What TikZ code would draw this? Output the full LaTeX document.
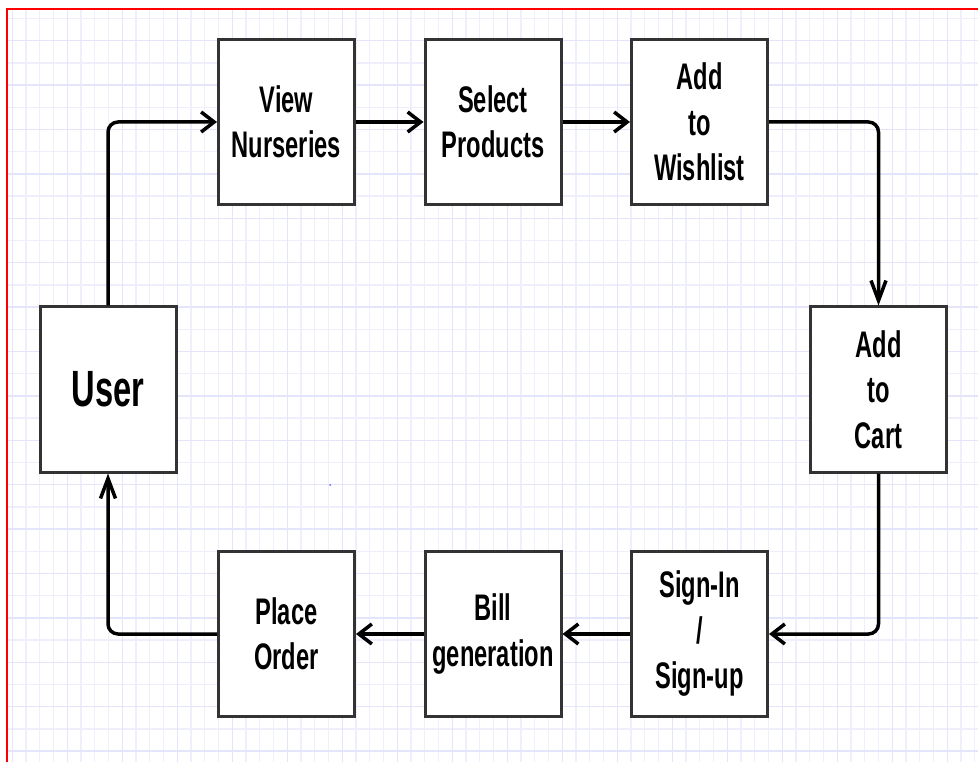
\documentclass[tikz,border=0pt]{standalone}
\usepackage{fontspec}
\newfontfamily\bx{Liberation Sans}[FakeStretch=0.64]
\usetikzlibrary{arrows.meta}
\definecolor{gridminor}{HTML}{EEEEFC}
\definecolor{gridmajor}{HTML}{E4E4FA}
\definecolor{boxline}{HTML}{333333}
\begin{document}
\begin{tikzpicture}[x=1pt,y=-1pt,
  stepbox/.style={draw=boxline, line width=3pt, fill=white, minimum width=136pt, minimum height=165pt, inner sep=0pt, align=center, font=\bx\bfseries\fontsize{37}{45.5}\selectfont},
  conn/.style={line width=3.5pt, rounded corners=10pt},
  harrow/.style={-{Straight Barb[length=13pt,width=20pt]}},
  varrow/.style={-{Straight Barb[length=20pt,width=15pt]}},
  gminor/.style={draw=gridminor, line width=1.3pt},
  gmajor/.style={draw=gridmajor, line width=1.3pt}]
\useasboundingbox (0,0) rectangle (978,762);
\fill[white] (0,0) rectangle (978,762);
\begin{scope}
  \clip (7,8.7) rectangle (978,762);
  \foreach \k in {0,...,71} { \draw[gminor] ({12.3+13.75*\k},0) -- ({12.3+13.75*\k},762); }
  \foreach \k in {0,...,35} { \draw[gminor] (0,{18.5+22.2*\k}) -- (978,{18.5+22.2*\k}); }
  \foreach \k in {0,4,...,68} { \draw[gmajor] ({12.3+13.75*\k},0) -- ({12.3+13.75*\k},762); }
  \foreach \k in {1,3,...,33} { \draw[gmajor] (0,{18.5+22.2*\k}) -- (978,{18.5+22.2*\k}); }
\end{scope}
\draw[red, line width=2.2pt] (7,762) -- (7,8.7) -- (978,8.7);

\node[stepbox] (vn) at (286.5,122) {View\\Nurseries};
\node[stepbox] (sp) at (493,122) {Select\\Products};
\node[stepbox] (aw) at (699.5,122) {Add\\to\\Wishlist};
\node[stepbox, font=\bx\bfseries\fontsize{51}{60}\selectfont] (user) at (108,389.5) {User};
\node[stepbox] (ac) at (878.5,389.5) {Add\\to\\Cart};
\node[stepbox] (si) at (699.5,634) {Sign-In\\/\\Sign-up};
\node[stepbox] (bg) at (493,634) {Bill\\generation};
\node[stepbox] (po) at (286.5,634) {Place\\Order};

\draw[conn,harrow] (user.north) |- (vn.west);
\draw[conn,harrow] (vn.east) -- (sp.west);
\draw[conn,harrow] (sp.east) -- (aw.west);
\draw[conn,varrow] (aw.east) -| (ac.north);
\draw[conn,harrow] (ac.south) |- (si.east);
\draw[conn,harrow] (si.west) -- (bg.east);
\draw[conn,harrow] (bg.west) -- (po.east);
\draw[conn,varrow] (po.west) -| (user.south);

\fill[blue!60!white] (330,485) circle (1pt);
\end{tikzpicture}
\end{document}
